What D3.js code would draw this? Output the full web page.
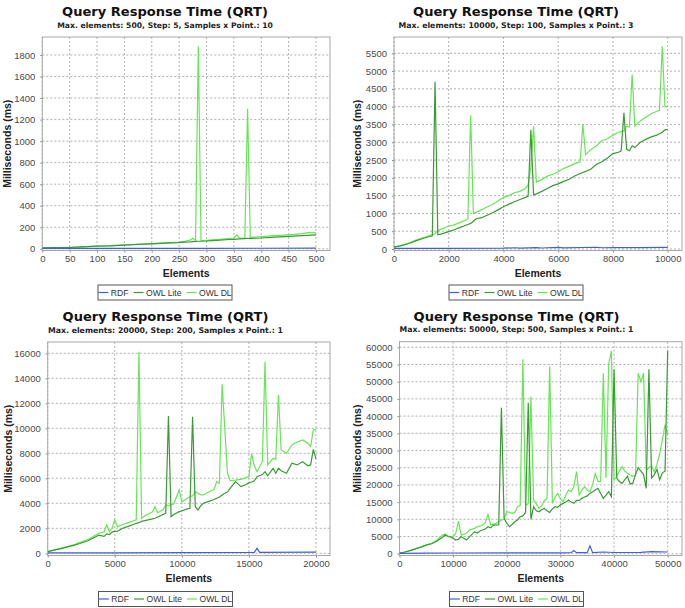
<!DOCTYPE html>
<html><head><meta charset="utf-8">
<script src="https://cdn.jsdelivr.net/npm/d3@7/dist/d3.min.js"></script>
<style>body{margin:0;background:#fff}</style>
</head><body>
<svg id="c" width="685" height="608"></svg>
<script>
// ---------------- DATA ----------------
const seriesNames = ["RDF", "OWL Lite", "OWL DL"];
const titleText = "Query Response Time (QRT)";
const xLabel = "Elements";
const yLabel = "Milliseconds (ms)";
const subtitles = [
  "Max. elements: 500, Step: 5, Samples x Point.: 10",
  "Max. elements: 10000, Step: 100, Samples x Point.: 3",
  "Max. elements: 20000, Step: 200, Samples x Point.: 1",
  "Max. elements: 50000, Step: 500, Samples x Point.: 1"
];

// Panel 1 (max 500)
const p1XTicks = [0,50,100,150,200,250,300,350,400,450,500];
const p1YTicks = [0,200,400,600,800,1000,1200,1400,1600,1800];
const p1X    = [0,25,50,75,100,125,150,175,200,225,250,260,270,275,280,285,290,300,310,325,340,350,355,360,370,375,380,390,400,425,450,475,485,500];
const p1Lite = [8,10,12,17,24,27,33,40,45,52,58,62,64,66,68,70,70,72,76,80,86,88,90,92,95,96,97,98,100,108,115,122,125,130];
const p1DL   = [8,10,14,20,26,30,36,42,48,55,62,68,80,98,78,1880,75,78,82,88,95,100,128,102,98,1300,105,108,112,122,130,140,150,148];
const p1RdfX = [0,100,200,300,400,500];
const p1Rdf  = [3,3,4,4,5,6];

// Panel 2 (max 10000)
const p2XTicks = [0,2000,4000,6000,8000,10000];
const p2YTicks = [0,500,1000,1500,2000,2500,3000,3500,4000,4500,5000,5500];
const p2X    = [0,200,400,600,800,1000,1200,1400,1500,1600,1800,2000,2200,2400,2600,2700,2800,2900,3000,3200,3400,3600,3800,4000,4200,4400,4600,4800,4900,5000,5100,5200,5400,5600,5800,6000,6200,6400,6600,6800,6900,7000,7200,7400,7600,7800,8000,8200,8300,8400,8500,8600,8700,8800,9000,9200,9400,9600,9700,9800,9900,10000];
const p2Lite = [50,80,120,170,230,280,330,370,4700,400,440,490,540,600,660,690,720,780,850,880,950,1020,1100,1190,1260,1330,1390,1450,1480,3350,1520,1550,1620,1700,1780,1830,1900,1960,2050,2120,2150,2180,2250,2380,2450,2560,2680,2720,2760,3830,2800,2760,2900,2850,3000,3080,3150,3200,3240,3280,3350,3360];
const p2DL   = [60,90,130,180,250,300,350,400,430,520,580,640,680,740,800,850,3750,1000,1030,1100,1180,1250,1350,1450,1500,1580,1620,1700,1800,2300,3450,1880,1950,2050,2100,2170,2260,2330,2400,2450,3500,2650,2800,2900,3050,3100,3200,3280,3300,3320,3450,3430,4900,3450,3600,3700,3800,3870,3900,5700,4000,4000];
const p2RdfX = [0,2000,4000,4400,4600,5200,5400,6000,6200,7400,7600,8000,9000,10000];
const p2Rdf  = [15,18,22,35,25,40,28,45,32,50,35,38,40,45];

// Panel 3 (max 20000)
const p3XTicks = [0,5000,10000,15000,20000];
const p3YTicks = [0,2000,4000,6000,8000,10000,12000,14000,16000];
const p3X    = [0,1000,2000,2400,3000,3800,4200,4400,4600,4800,5000,5200,5600,6000,6400,6600,6800,7000,7400,7800,8000,8200,8600,8800,9000,9200,9400,9800,10000,10400,10600,10800,11000,11200,11400,11600,12000,12400,12600,12800,13000,13200,13400,13600,14000,14400,14800,15000,15200,15400,15600,16000,16200,16400,16800,17000,17200,17400,17800,18200,18600,19000,19400,19600,19800,20000];
const p3Lite = [130,380,650,780,1000,1450,1350,1550,1500,1700,1750,1780,2000,2150,2300,2400,2450,2550,2650,2750,2800,2900,3100,3200,10990,2930,3100,3330,3400,3550,3600,10930,3730,3470,3800,4000,4150,4300,4400,4500,4670,4800,4900,5200,5730,5330,5500,5650,5700,5800,6130,6300,6530,6200,6800,6400,6800,6600,6400,7200,7070,7330,7000,7070,8320,7550];
const p3DL   = [130,420,700,870,1100,1600,1700,2270,1730,2000,2670,2130,2300,2450,2600,2670,16130,2800,3100,3300,3730,3250,3500,3870,3800,3900,3950,5070,4130,4400,4530,4600,4930,4800,4700,4670,4900,5100,5730,5600,13520,10000,6400,5810,5850,5920,6050,6130,7950,7000,6530,7330,15330,7070,7600,7500,12670,8270,8000,8670,8900,9070,8800,8530,9870,9920];
const p3RdfX = [0,5000,10000,15400,15600,15800,20000];
const p3Rdf  = [30,40,55,80,400,80,100];

// Panel 4 (max 50000)
const p4XTicks = [0,10000,20000,30000,40000,50000];
const p4YTicks = [0,5000,10000,15000,20000,25000,30000,35000,40000,45000,50000,55000,60000];
const p4X    = [0,1000,2000,3000,4000,5000,6000,7000,8000,8500,9000,9500,10000,10500,11000,11500,12000,12500,13000,14000,14500,15000,15500,16000,16500,17000,17500,18000,18500,19000,19500,20000,20500,21000,21500,22000,22500,23000,23500,24000,24500,25000,25500,26000,26500,27000,27500,28000,28500,29000,29500,30000,30500,31000,31500,32000,32500,33000,33500,34000,34500,35000,35500,36000,36500,37000,37500,38000,38500,39000,39500,40000,40500,41000,41500,42000,42500,43000,43500,44000,44500,45000,45500,46000,46500,47000,47500,48000,48500,49000,49500,50000];
const p4Lite = [200,500,900,1400,1900,2500,2900,3700,4750,5500,5000,4900,4500,3970,4200,4940,4500,3970,4800,6400,6000,6600,6880,7200,7850,7500,8330,8330,8400,42450,10270,8840,7850,8500,9300,9800,10760,11000,12000,43900,10000,13660,12500,12210,12800,13180,12500,12000,13000,13660,13500,14200,14630,15000,15600,15000,14630,15500,15500,16090,16500,16800,17540,18000,18500,19000,17500,16090,17000,18020,16570,53600,21900,21000,20450,21500,22500,20260,20500,23000,25000,24000,23000,19000,53600,22000,23000,24500,21500,23500,24000,59000];
const p4DL   = [200,500,950,1500,2000,2600,3000,4000,5430,5700,5200,4900,4940,6000,9500,5430,5600,6000,6880,7360,7850,8000,8340,9000,11430,8330,8600,8820,9200,9790,10000,12210,12000,11720,12000,13660,14000,56500,14150,14500,45650,15600,14500,13180,14000,15500,16000,54380,14630,16500,17540,16000,15120,17000,18510,18020,19500,23840,17050,18500,19480,18500,18020,20000,23350,21000,20930,52440,22000,55150,58930,21410,22500,24000,25290,24000,23350,22870,22500,22870,52440,50000,52440,24320,25000,25500,23840,26000,29000,33000,37500,34500];
const p4RdfX = [0,5000,10000,20000,30000,32000,32500,33000,35000,35500,36000,38000,40000,45000,47000,50000];
const p4Rdf  = [100,150,200,250,250,300,900,300,300,2300,300,500,350,400,600,500];

// ---------------- LAYOUT ----------------
const colors = {rdf: "#3f5fe0", lite: "#3a9a34", dl: "#66e655"};
const panels = [
  {x:p1X, lite:p1Lite, dl:p1DL, rx:p1RdfX, rdf:p1Rdf, xt:p1XTicks, yt:p1YTicks, sub:subtitles[0], subW:216,
   L:42.3, R:330, T:37, B:250.5, xMax:525.6, yMin:-16, yMax:1967, cx:165, tY:16, sY:28, legY:285, ylx:7.5},
  {x:p2X, lite:p2Lite, dl:p2DL, rx:p2RdfX, rdf:p2Rdf, xt:p2XTicks, yt:p2YTicks, sub:subtitles[1], subW:235,
   L:394, R:682, T:37, B:250.5, xMax:10522, yMin:-42, yMax:5958, cx:516, tY:16, sY:27.5, legY:285, ylx:357},
  {x:p3X, lite:p3Lite, dl:p3DL, rx:p3RdfX, rdf:p3Rdf, xt:p3XTicks, yt:p3YTicks, sub:subtitles[2], subW:235,
   L:47.7, R:330, T:342, B:555.5, xMax:21043, yMin:-176, yMax:16904, cx:165.5, tY:320.7, sY:333, legY:591.5, ylx:8},
  {x:p4X, lite:p4Lite, dl:p4DL, rx:p4RdfX, rdf:p4Rdf, xt:p4XTicks, yt:p4YTicks, sub:subtitles[3], subW:234,
   L:399.5, R:682, T:341.7, B:555.5, xMax:52666, yMin:-523, yMax:61628, cx:516.5, tY:320.7, sY:332, legY:591.5, ylx:357}
];

const svg = d3.select("#c");
const TXT = "'Liberation Sans', Arial, sans-serif";
const TTL = "'DejaVu Sans', sans-serif";

function fit(sel, target) {
  const w = sel.node().getComputedTextLength();
  const fs = parseFloat(sel.attr("font-size"));
  sel.attr("font-size", (fs * target / w).toFixed(2));
}

panels.forEach((p, i) => {
  const g = svg.append("g");
  const x = d3.scaleLinear().domain([0, p.xMax]).range([p.L, p.R]);
  const y = d3.scaleLinear().domain([p.yMin, p.yMax]).range([p.B, p.T]);

  // titles
  const t = g.append("text").attr("x", p.cx).attr("y", p.tY).attr("text-anchor", "middle")
    .attr("font-family", TTL).attr("font-weight", "bold").attr("font-size", 13).attr("fill", "#111").text(titleText);
  fit(t, 206);
  const s = g.append("text").attr("x", p.cx).attr("y", p.sY).attr("text-anchor", "middle")
    .attr("font-family", TTL).attr("font-weight", "bold").attr("font-size", 8).attr("fill", "#222").text(p.sub);
  fit(s, p.subW);

  // plot background
  g.append("rect").attr("x", p.L).attr("y", p.T).attr("width", p.R - p.L).attr("height", p.B - p.T).attr("fill", "#fff");

  // grid
  g.append("g").selectAll("line").data(p.xt).join("line")
    .attr("x1", d => x(d)).attr("x2", d => x(d)).attr("y1", p.T).attr("y2", p.B)
    .attr("stroke", "#a8a8a8").attr("stroke-width", 0.9).attr("stroke-dasharray", "2,2");
  g.append("g").selectAll("line").data(p.yt).join("line")
    .attr("y1", d => y(d)).attr("y2", d => y(d)).attr("x1", p.L).attr("x2", p.R)
    .attr("stroke", "#a8a8a8").attr("stroke-width", 0.9).attr("stroke-dasharray", "2,2");

  // axes
  const xa = g.append("g").attr("transform", `translate(0,${p.B})`)
    .call(d3.axisBottom(x).tickValues(p.xt).tickSize(2).tickSizeOuter(0).tickPadding(3).tickFormat(d3.format("d")));
  const ya = g.append("g").attr("transform", `translate(${p.L},0)`)
    .call(d3.axisLeft(y).tickValues(p.yt).tickSize(2).tickSizeOuter(0).tickPadding(5).tickFormat(d3.format("d")));
  [xa, ya].forEach(a => {
    a.select(".domain").remove();
    a.selectAll(".tick line").attr("stroke", "#888");
    a.selectAll("text").attr("font-family", TXT).attr("font-size", 9.5).attr("fill", "#4a4a4a");
  });

  // outline
  g.append("rect").attr("x", p.L).attr("y", p.T).attr("width", p.R - p.L).attr("height", p.B - p.T)
    .attr("fill", "none").attr("stroke", "#a8a8a8").attr("stroke-width", 1);

  // axis labels
  g.append("text").attr("x", (p.L + p.R) / 2).attr("y", p.B + 26.5).attr("text-anchor", "middle")
    .attr("font-family", TXT).attr("font-weight", "bold").attr("font-size", 10.5).attr("fill", "#222").text(xLabel);
  g.append("text").attr("transform", `translate(${p.ylx + 3.8},${(p.T + p.B) / 2}) rotate(-90)`).attr("text-anchor", "middle")
    .attr("font-family", TXT).attr("font-weight", "bold").attr("font-size", 10.5).attr("fill", "#222").text(yLabel);

  // lines
  const clipId = "clip" + i;
  g.append("clipPath").attr("id", clipId).append("rect")
    .attr("x", p.L).attr("y", p.T).attr("width", p.R - p.L).attr("height", p.B - p.T);
  const lg = g.append("g").attr("clip-path", `url(#${clipId})`);
  const line = d3.line().x(d => x(d[0])).y(d => y(d[1]));
  const dl = p.x.map((v, k) => [v, p.dl[k]]);
  const lite = p.x.map((v, k) => [v, p.lite[k]]);
  const rdf = p.rx.map((v, k) => [v, p.rdf[k]]);
  lg.append("path").attr("d", line(dl)).attr("fill", "none").attr("stroke", colors.dl).attr("stroke-width", 1.2);
  lg.append("path").attr("d", line(lite)).attr("fill", "none").attr("stroke", colors.lite).attr("stroke-width", 1.2);
  lg.append("path").attr("d", line(rdf)).attr("fill", "none").attr("stroke", colors.rdf).attr("stroke-width", 1.2);

  // legend
  const bw = 134, bh = 15;
  g.append("rect").attr("x", p.cx - bw / 2).attr("y", p.legY).attr("width", bw).attr("height", bh)
    .attr("fill", "#fff").attr("stroke", "#555").attr("stroke-width", 1);
  const cols = [colors.rdf, colors.lite, colors.dl];
  const items = seriesNames.map((n, k) => {
    const it = g.append("g");
    it.append("line").attr("x1", 0).attr("x2", 10).attr("y1", 0).attr("y2", 0).attr("stroke", cols[k]).attr("stroke-width", 1.2);
    const tx = it.append("text").attr("x", 12.5).attr("y", 3.1).attr("font-family", TXT).attr("font-size", 8.6).attr("fill", "#333").text(n);
    return {it, w: 12.5 + tx.node().getComputedTextLength()};
  });
  const gap = 5;
  const total = d3.sum(items, d => d.w) + gap * (items.length - 1);
  let sx = p.cx - total / 2;
  items.forEach(d => { d.it.attr("transform", `translate(${sx},${p.legY + bh / 2})`); sx += d.w + gap; });
});
</script>
</body></html>
